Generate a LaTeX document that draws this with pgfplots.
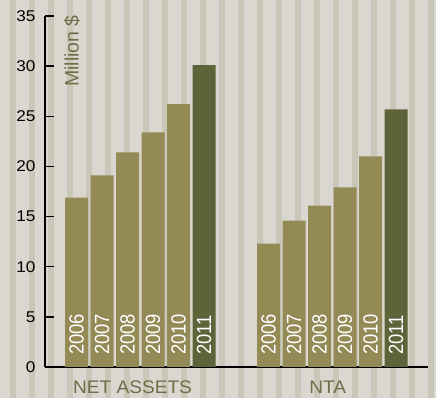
\documentclass[border=0pt]{standalone}
\usepackage{fontspec}
\usepackage{pgfplots}
\usepackage{pgfplotstable}
\pgfplotsset{compat=1.18}
\setmainfont{Liberation Sans}
\newfontfamily\tickfont{Liberation Sans}[FakeStretch=1.1]
\newfontfamily\yearfont{Liberation Sans}[FakeStretch=0.9]
\newfontfamily\groupfont{Liberation Sans}[FakeStretch=1.05]

\definecolor{bgbase}{HTML}{D9D7CF}
\definecolor{bgstripe}{HTML}{C9C7B7}
\definecolor{lightbar}{HTML}{948A55}
\definecolor{darkbar}{HTML}{5E633A}
\definecolor{labelgreen}{HTML}{6C6F47}

% bar centre (px from the value axis), value (million $), year
\pgfplotstableread{
x     y     year
31.5  16.9  2006
57.0  19.1  2007
82.5  21.4  2008
108.0 23.4  2009
133.5 26.2  2010
223.5 12.3  2006
249.0 14.6  2007
274.5 16.1  2008
300.0 17.9  2009
325.5 21.0  2010
}\lightbars
\pgfplotstableread{
x     y     year
159.0 30.1  2011
351.0 25.7  2011
}\darkbars

\begin{document}
\begin{tikzpicture}[x=1pt,y=1pt]
  % striped backdrop
  \fill[bgbase] (0,0) rectangle (436,398);
  \foreach \k in {0,...,22}{
    \fill[bgstripe] ({10+19*\k},0) rectangle ({16+19*\k},398);
  }
  \begin{axis}[
    at={(45pt,31pt)}, anchor=south west,
    scale only axis, width=383pt, height=351pt,
    xmin=0, xmax=383, ymin=0, ymax=35,
    clip=false,
    axis x line*=bottom, axis y line*=left,
    axis line style={line width=1.6pt, draw=black},
    ytick={0,5,...,35},
    tick align=inside,
    major tick length=9pt,
    major tick style={line width=1.4pt, black},
    /pgf/number format/assume math mode=true,
    yticklabel style={font=\tickfont\fontsize{15.6}{18}\selectfont, xshift=-6pt},
    xtick={87.5,282.7},
    xticklabels={NET ASSETS, NTA},
    major x tick style={draw=none},
    xticklabel style={font=\groupfont\fontsize{18.2}{20}\selectfont, text=labelgreen, anchor=base, yshift=-27pt},
    extra x ticks={191,383},
    extra x tick labels={},
    extra x tick style={major tick style={line width=1.4pt, black, draw=black}},
    ylabel={Million \$},
    ylabel style={font=\fontsize{19.5}{20}\selectfont, text=labelgreen,
      at={(axis description cs:0,1)}, anchor=north east, inner sep=0pt,
      xshift=1pt, yshift=-19pt},
  ]
    \addplot[ybar, bar width=23, bar shift=0pt, fill=lightbar, draw=none]
      table[x=x, y=y] {\lightbars};
    \addplot[ybar, bar width=23, bar shift=0pt, fill=darkbar, draw=none]
      table[x=x, y=y] {\darkbars};
    % year captions standing at the foot of each bar
    \addplot[draw=none, mark=none, nodes near coords, point meta=explicit symbolic,
      every node near coord/.style={rotate=90, anchor=west, inner sep=0pt, xshift=12pt,
        text=white, font=\yearfont\fontsize{20.5}{21}\selectfont}]
      table[x=x, y expr=0, meta=year] {\lightbars};
    \addplot[draw=none, mark=none, nodes near coords, point meta=explicit symbolic,
      every node near coord/.style={rotate=90, anchor=west, inner sep=0pt, xshift=12pt,
        text=white, font=\yearfont\fontsize{20.5}{21}\selectfont}]
      table[x=x, y expr=0, meta=year] {\darkbars};
  \end{axis}
  \pgfresetboundingbox
  \useasboundingbox (0,0) rectangle (436,398);
\end{tikzpicture}
\end{document}
